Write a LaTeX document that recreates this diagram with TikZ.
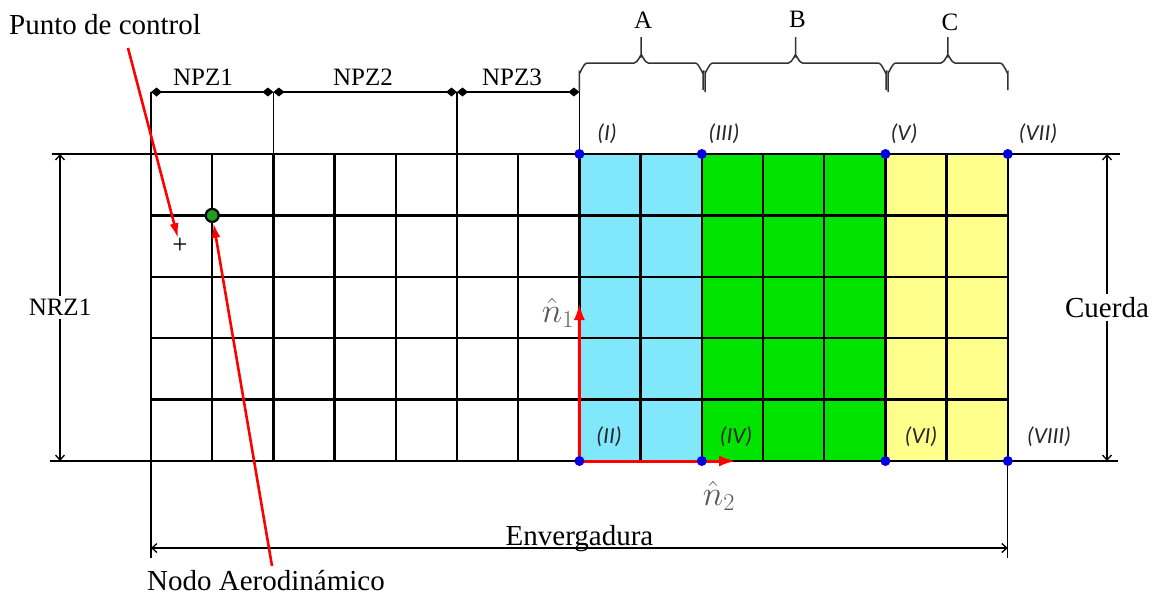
\documentclass[tikz,border=0pt]{standalone}
\usepackage{fontspec}
\setmainfont{Liberation Serif}
\newfontfamily\romfont{Carlito}
\usepackage{tikz}
\usetikzlibrary{arrows.meta,positioning}
\definecolor{zonea}{RGB}{128,232,250}
\definecolor{zoneb}{RGB}{0,228,0}
\definecolor{zonec}{RGB}{255,255,140}
\definecolor{ptblue}{RGB}{0,0,225}
\definecolor{romgray}{RGB}{40,40,40}
\definecolor{nodegreen}{RGB}{30,160,30}

\begin{document}
\begin{tikzpicture}[x=1pt,y=-1pt,
  lbl/.style={font=\rmfamily\fontsize{29}{34}\selectfont,inner sep=1pt},
  slbl/.style={font=\rmfamily\fontsize{25}{30}\selectfont,inner sep=1pt},
  rom/.style={font=\romfont\itshape\fontsize{23}{26}\selectfont,text=romgray,inner sep=0pt},
  grid/.style={line width=2.4pt},
  ext/.style={line width=1.3pt},
  dim/.style={line width=1.3pt,{Straight Barb[length=5pt,width=9pt]}-{Straight Barb[length=5pt,width=9pt]}},
  npz/.style={line width=1.3pt,{Diamond[length=11pt,width=9pt]}-{Diamond[length=11pt,width=9pt]}},
  br/.style={line width=1.5pt,black!80},
  pt/.style={circle,fill=ptblue,inner sep=0pt,minimum size=10pt},
  ra/.style={red,line width=2.6pt,-{Latex[length=15pt,width=9pt]}},
  vec/.style={red,line width=3pt,-{Latex[length=17pt,width=11pt]}},
  nvec/.style={font=\fontsize{24}{26}\selectfont,scale=1.4,text=black!65,inner sep=0pt}
]
\useasboundingbox (0,0) rectangle (1158,595);

% zonas coloreadas
\fill[zonea] (579.4,154) rectangle (701.8,461);
\fill[zoneb] (701.8,154) rectangle (885.4,461);
\fill[zonec] (885.4,154) rectangle (1007.8,461);

% malla
\foreach \i in {0,...,14} {
  \coordinate (t\i) at (151+61.2*\i,154);
  \coordinate (b\i) at (151+61.2*\i,461);
  \draw[grid] (t\i) -- (b\i);
}
\foreach \j in {0,...,5}
  \draw[grid] (151,154+61.4*\j) -- (1007.8,154+61.4*\j);

% lineas de referencia
\draw[ext] (52,154) -- (t0);
\draw[ext] (t14) -- (1120,154);
\draw[ext] (50,461) -- (b0);
\draw[ext] (b14) -- (1118,461);
\foreach \i/\k in {0/0,2/1,5/2,7/3} {
  \draw[ext] (t\i) -- ++(0,-62) coordinate (z\k);
}
\draw[ext] (b0) -- ++(0,97);
\draw[ext] (b14) -- ++(0,97);

% cotas
\draw[npz] (z0) -- (z1);
\draw[npz] (z1) -- (z2);
\draw[npz] (z2) -- (z3);
\node[slbl] (npz1) at (203,77) {NPZ1};
\node[slbl] (npz2) at (363,77) {NPZ2};
\node[slbl] (npz3) at (512,77) {NPZ3};

\draw[dim] (60,154) -- node[slbl,fill=white,inner sep=3pt] (nrz) {NRZ1} (60,461);
\draw[dim] (1107,154) -- node[lbl,fill=white,inner sep=3pt] (cuerda) {Cuerda} (1107,461);
\coordinate (s0) at (151,548);
\coordinate (s1) at (1007.8,548);
\draw[dim] (s0) -- (s1);
\node[lbl,anchor=base] (env) at (579.5,545) {Envergadura};

% llaves de zonas
\foreach \xa/\xb/\lab/\ly in {579.4/703/A/20, 705/886/B/19, 888/1007.8/C/22} {
  \pgfmathsetmacro\xm{(\xa+\xb)/2}
  \draw[br] (\xa,92) -- (\xa,72) to[out=-90,in=180] (\xa+8,63) -- (\xm-7,63)
    to[out=0,in=90] (\xm,56) -- (\xm,37) -- (\xm,56)
    to[out=90,in=180] (\xm+7,63) -- (\xb-8,63) to[out=0,in=-90] (\xb,72) -- (\xb,90);
  \node[slbl] (z\lab) at (\xm+2,\ly) {\lab};
}

% punto de control y nodo aerodinamico
\node[font=\fontsize{27}{27}\selectfont,inner sep=0pt] (cpt) at (180,246) {+};
\node[circle,draw,line width=2.2pt,fill=nodegreen,minimum size=13pt,inner sep=0pt] (nod) at (212.2,215.4) {};
\node[lbl,anchor=base west] (pc) at (8,34) {Punto de control};
\node[lbl,anchor=base west] (na) at (146,590) {Nodo Aerodinámico};
\coordinate (pcs) at (128,48);
\coordinate (nas) at (272,566);
\draw[ra] (pcs) -- (cpt);
\draw[ra] (nas) -- (nod);

% vectores
\coordinate (n1) at (579.4,303);
\coordinate (n2) at (736,461);
\draw[vec] (b7) -- (n1);
\draw[vec] (b7) -- (n2);
\node[nvec] (n1l) at (558,313) {$\hat{n}_1$};
\node[nvec] (n2l) at (719,496) {$\hat{n}_2$};

% vertices
\foreach \i in {7,9,12,14} {
  \node[pt] (vt\i) at (t\i) {};
  \node[pt] (vb\i) at (b\i) {};
}
\node[rom] (r1) at (607,134) {(I)};
\node[rom] (r3) at (724,134) {(III)};
\node[rom] (r5) at (904,134) {(V)};
\node[rom] (r7) at (1038,134) {(VII)};
\node[rom] (r2) at (609,437) {(II)};
\node[rom] (r4) at (736,437) {(IV)};
\node[rom] (r6) at (921,437) {(VI)};
\node[rom] (r8) at (1049,437) {(VIII)};
\end{tikzpicture}
\end{document}
